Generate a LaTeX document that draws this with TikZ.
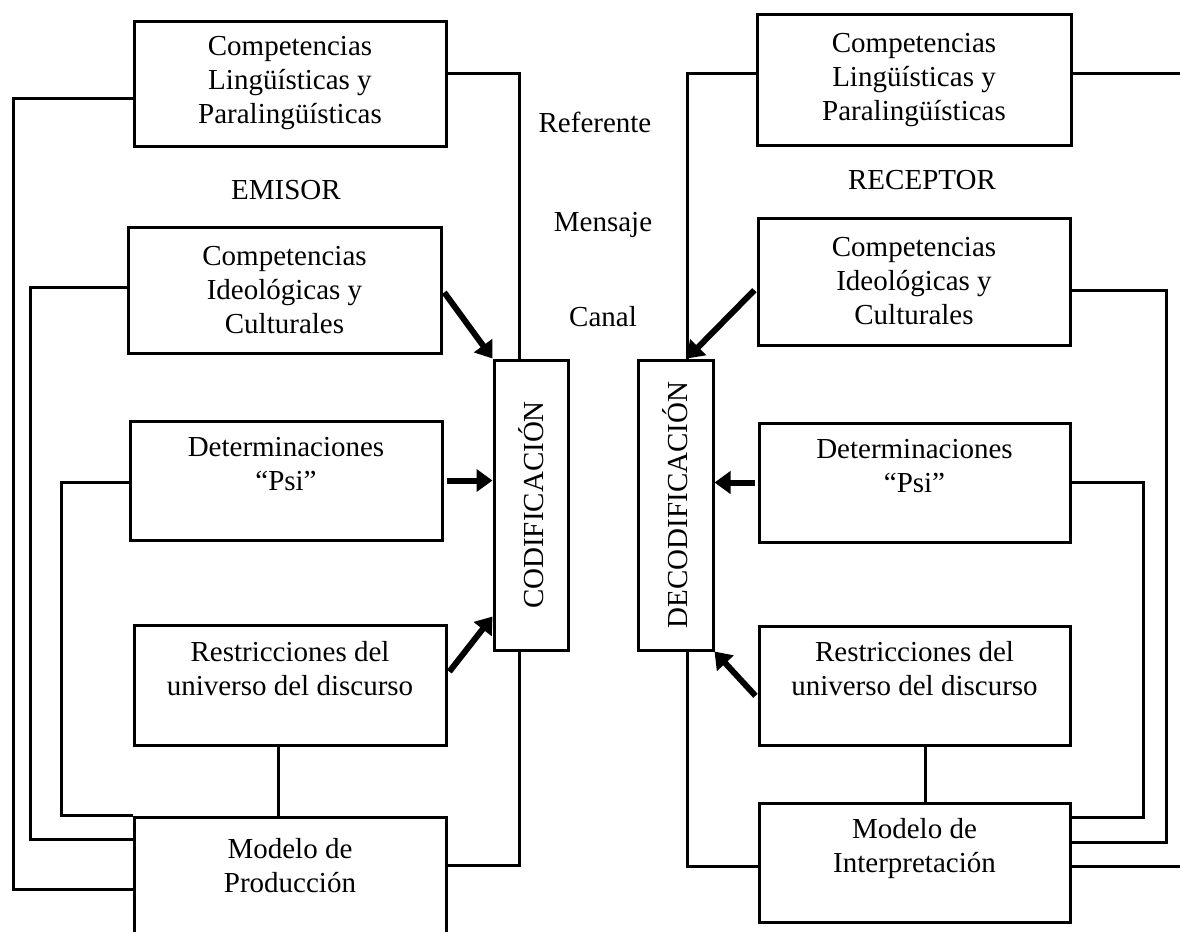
\documentclass[tikz,border=0pt]{standalone}
\usepackage{fontspec}
\setmainfont{Liberation Serif}
\usetikzlibrary{arrows.meta, positioning}

\begin{document}
\begin{tikzpicture}
                            [x=0.5pt, y=-0.5pt,
                             line width=1.5pt,
                             every node/.style={font=\fontsize{14.5pt}{17pt}\selectfont, align=center, inner sep=0pt},
                             box/.style={draw, minimum width=156pt, minimum height=60pt},
                             codbox/.style={draw, rotate=90, minimum width=145pt, minimum height=37pt},
                             push/.style={line width=3pt, -{Triangle[length=8pt, width=11pt]}, shorten <=1.5pt}]

    \clip (0,0) rectangle (1180,932);

    \node[box, minimum height=62.5pt] (lLP) at (290,83.5) {Competencias\\Lingüísticas y\\Paralingüísticas};
    \node (emisor) at (286,190) {EMISOR};
    \node[box, minimum width=156.5pt, minimum height=63pt] (lIC) at (284.5,290) {Competencias\\Ideológicas y\\Culturales};
    \node[box, minimum height=59.5pt] (lPsi) at (286,480.5) {Determinaciones\\“Psi”\\\mbox{}};
    \node[box] (lRU) at (290,685) {Restricciones del\\universo del discurso\\\mbox{}};
    \node[box, minimum height=65pt] (lMP) at (290,882) {Modelo de\\Producción\\\mbox{}};
    \node[codbox] (cod) at (531,505) {CODIFICACIÓN};

    \node (ref) at (595,122) {Referente};
    \node (men) at (603,225) {Mensaje};
    \node (can) at (603,317) {Canal};

    \node[box, minimum width=157pt, minimum height=65.5pt] (rLP) at (914,80) {Competencias\\Lingüísticas y\\Paralingüísticas};
    \node (receptor) at (922,180) {RECEPTOR};
    \node[box, minimum height=63.5pt] (rIC) at (914,281.5) {Competencias\\Ideológicas y\\Culturales};
    \node[box, minimum width=155.5pt, minimum height=59.5pt] (rPsi) at (914.5,482.5) {Determinaciones\\“Psi”\\\mbox{}};
    \node[box, minimum width=155.5pt, minimum height=59.5pt] (rRU) at (914.5,685.5) {Restricciones del\\universo del discurso\\\mbox{}};
    \node[box, minimum width=155.5pt, minimum height=59.5pt] (rMI) at (914.5,862.5) {Modelo de\\Interpretación\\\mbox{}};
    \node[codbox, minimum height=37.5pt] (decod) at (675.5,505) {DECODIFICACIÓN};

    \draw ([yshift=-7.25pt]lLP.west) -- ++(-119,0) |- ([yshift=-3.5pt]lMP.west);
    \draw ([yshift=1.5pt]lIC.west) -- ++(-96,0) |- ([yshift=21.5pt]lMP.west);
    \draw ([yshift=-0.75pt]lPsi.west) -- ++(-67,0) |- (lMP.north west);
    \draw ([xshift=-6pt]lRU.south) -- ([xshift=-6pt]lMP.north);
    \draw ([yshift=8.5pt]lMP.east) -| ([xshift=-6pt]cod.west);
    \draw ([yshift=5.25pt]lLP.east) -| ([xshift=-6pt]cod.east);

    \draw[push] (lIC.east) -- (cod.north east);
    \draw[push] (lPsi.east) -- (cod.north |- lPsi.east);
    \draw[push] ([yshift=5.5pt]lRU.east) -- ([yshift=17.5pt]cod.north west);

    \draw ([yshift=3.5pt]rLP.west) -| ([xshift=5.75pt]decod.east);
    \draw ([yshift=3.5pt]rLP.east) -- ++(130,0) |- ([yshift=-1.75pt]rMI.east);
    \draw ([yshift=-4.25pt]rIC.east) -- ++(95,0) |- ([yshift=10.25pt]rMI.east);
    \draw (rPsi.east) -- ++(72,0) |- ([yshift=22.75pt]rMI.east);
    \draw ([xshift=5.25pt]rRU.south) -- ([xshift=5.25pt]rMI.north);
    \draw ([xshift=5.75pt]decod.west) |- ([yshift=-1.75pt]rMI.west);

    \draw[push] ([yshift=-3.25pt]rIC.west) -- ([xshift=5.75pt]decod.east);
    \draw[push] (rPsi.west) -- (decod.south |- rPsi.west);
    \draw[push] ([yshift=-6.25pt]rRU.west) -- (decod.south west);
\end{tikzpicture}
\end{document}
